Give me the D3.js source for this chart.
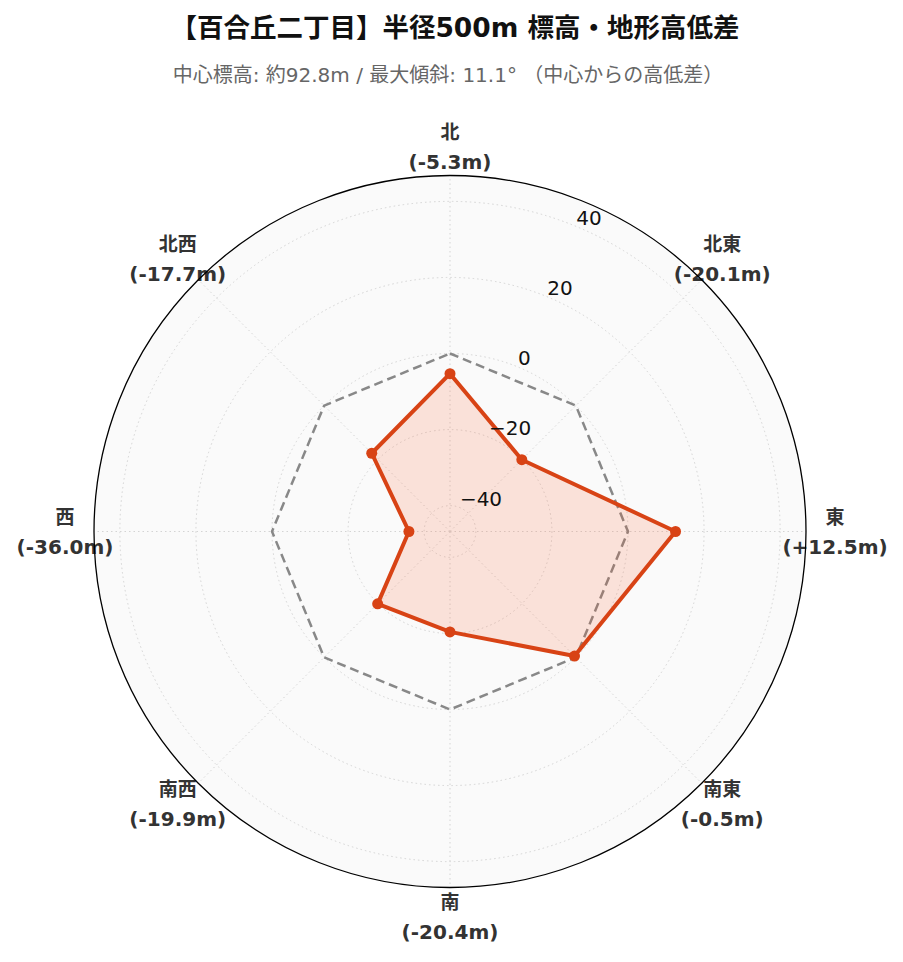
<!DOCTYPE html>
<html>
<head>
<meta charset="utf-8">
<script src="https://cdn.jsdelivr.net/npm/d3@7"></script>
<style>
  body { margin: 0; background: #fff; }
  svg text { font-family: "DejaVu Sans", "Noto Sans CJK JP", sans-serif; }
</style>
</head>
<body>
<div id="chart"></div>
<script>
// directions (clockwise from north) and elevation difference from center (m)
var directions = ["北", "北東", "東", "南東", "南", "南西", "西", "北西"];
var diffs = [-5.3, -20.1, 12.5, -0.5, -20.4, -19.9, -36.0, -17.7];
var radialTicks = [-40, -20, 0, 20, 40];
var radialMax = 46.8;

var svgWidth = 903;
var svgHeight = 962;
var cx = 450, cy = 531.5, outerR = 356;

var svg = d3.select("#chart")
  .append("svg")
  .attr("width", svgWidth)
  .attr("height", svgHeight);

// title
svg.append("text")
  .attr("x", 455)
  .attr("y", 37)
  .attr("text-anchor", "middle")
  .style("font-size", "26.5px")
  .style("font-weight", "bold")
  .attr("fill", "#111")
  .text("【百合丘二丁目】半径500m 標高・地形高低差");

svg.append("text")
  .attr("x", 448)
  .attr("y", 82)
  .attr("text-anchor", "middle")
  .style("font-size", "20px")
  .attr("fill", "#666")
  .text("中心標高: 約92.8m / 最大傾斜: 11.1° （中心からの高低差）");

var chartGroup = svg.append("g")
  .attr("transform", `translate(${cx}, ${cy})`);

var rScale = d3.scaleLinear()
  .domain([-radialMax, radialMax])
  .range([0, outerR]);

var angle = i => i * 2 * Math.PI / directions.length;

// background
chartGroup.append("circle")
  .attr("r", outerR)
  .attr("fill", "#fafafa");

// grid circles
chartGroup.selectAll(".grid")
  .data(radialTicks)
  .enter()
  .append("circle")
  .attr("r", d => rScale(d))
  .attr("fill", "none")
  .attr("stroke", "#d4d4d4")
  .attr("stroke-width", 1)
  .attr("stroke-dasharray", "1.5,3");

// spokes
chartGroup.selectAll(".spoke")
  .data(directions)
  .enter()
  .append("line")
  .attr("x1", 0).attr("y1", 0)
  .attr("x2", (d, i) => outerR * Math.sin(angle(i)))
  .attr("y2", (d, i) => -outerR * Math.cos(angle(i)))
  .attr("stroke", "#d4d4d4")
  .attr("stroke-width", 1)
  .attr("stroke-dasharray", "1.5,3");

// zero reference line
var radial = d3.lineRadial()
  .angle((d, i) => angle(i))
  .radius(d => rScale(d))
  .curve(d3.curveLinearClosed);

chartGroup.append("path")
  .attr("d", radial(directions.map(() => 0)))
  .attr("fill", "none")
  .attr("stroke", "#888")
  .attr("stroke-width", 2.5)
  .attr("stroke-dasharray", "9,5");

// data polygon
chartGroup.append("path")
  .attr("d", radial(diffs))
  .attr("fill", "#FF5722")
  .attr("fill-opacity", 0.15)
  .attr("stroke", "none");

chartGroup.append("path")
  .attr("d", radial(diffs))
  .attr("fill", "none")
  .attr("stroke", "#D84315")
  .attr("stroke-width", 4)
  .attr("stroke-linejoin", "round");

chartGroup.selectAll(".dot")
  .data(diffs)
  .enter()
  .append("circle")
  .attr("cx", (d, i) => rScale(d) * Math.sin(angle(i)))
  .attr("cy", (d, i) => -rScale(d) * Math.cos(angle(i)))
  .attr("r", 5.5)
  .attr("fill", "#D84315");

// radial tick labels at 22.5 degrees
var labelAngle = Math.PI / 8;
chartGroup.selectAll(".rtick")
  .data(radialTicks)
  .enter()
  .append("text")
  .attr("x", d => rScale(d) * Math.sin(labelAngle))
  .attr("y", d => -rScale(d) * Math.cos(labelAngle) - 2)
  .attr("text-anchor", "start")
  .style("font-size", "20px")
  .attr("fill", "#111")
  .text(d => d < 0 ? "\u2212" + Math.abs(d) : d);

// direction labels
var labelR = 385;
var dirLabels = chartGroup.selectAll(".dir")
  .data(directions)
  .enter()
  .append("g")
  .attr("transform", (d, i) => `translate(${labelR * Math.sin(angle(i))}, ${-labelR * Math.cos(angle(i))})`);

dirLabels.append("text")
  .attr("y", -15)
  .attr("text-anchor", "middle")
  .attr("dominant-baseline", "central")
  .style("font-size", "19px")
  .style("font-weight", "bold")
  .attr("fill", "#333")
  .text(d => d);

dirLabels.append("text")
  .attr("y", 15)
  .attr("text-anchor", "middle")
  .attr("dominant-baseline", "central")
  .style("font-size", "20px")
  .style("font-weight", "bold")
  .attr("fill", "#333")
  .text((d, i) => "(" + (diffs[i] > 0 ? "+" : "") + diffs[i].toFixed(1) + "m)");

// outer spine
chartGroup.append("circle")
  .attr("r", outerR)
  .attr("fill", "none")
  .attr("stroke", "#000")
  .attr("stroke-width", 1.3);
</script>
</body>
</html>
